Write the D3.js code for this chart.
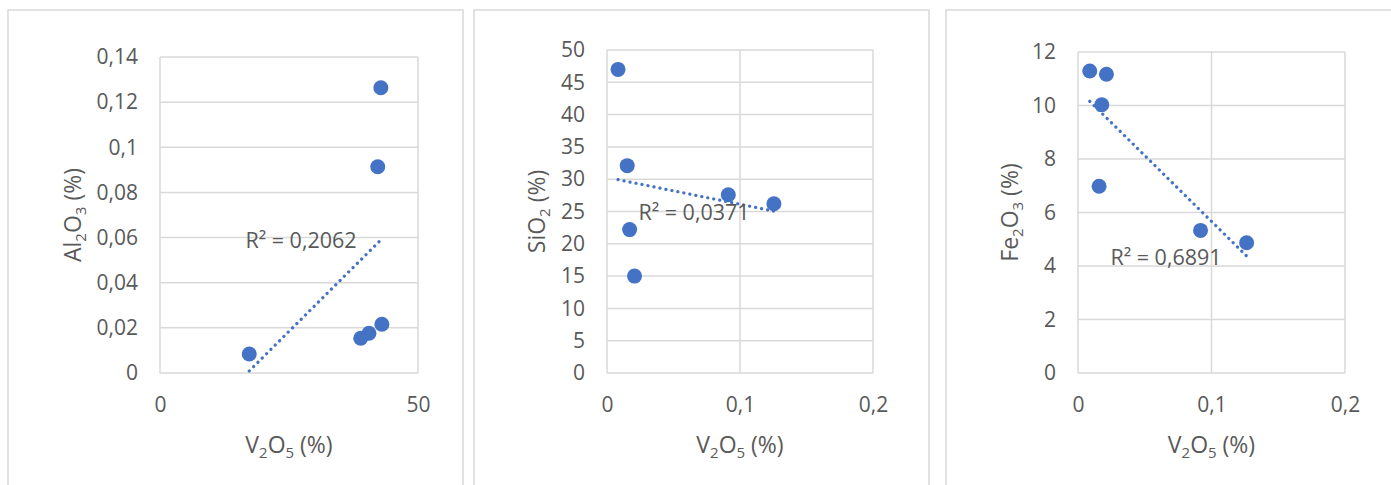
<!DOCTYPE html>
<html>
<head>
<meta charset="utf-8">
<script src="https://cdn.jsdelivr.net/npm/d3@7"></script>
<style>
  html, body { margin: 0; padding: 0; background: #fff; }
  svg { display: block; font-family: "Open Sans", "Noto Sans", sans-serif; }
</style>
</head>
<body>
<svg id="chart" width="1391" height="485"></svg>
<script>
// ---- data ----
const al2o3X = [42.8, 42.2, 43.0, 40.5, 38.9, 17.3];
const al2o3Y = [0.1264, 0.0914, 0.0216, 0.0176, 0.0154, 0.0084];

const sio2X = [0.0083, 0.0152, 0.017, 0.0207, 0.0912, 0.1255];
const sio2Y = [47.0, 32.1, 22.2, 15.0, 27.6, 26.2];

const fe2o3X = [0.0088, 0.0213, 0.0178, 0.0158, 0.0918, 0.1263];
const fe2o3Y = [11.29, 11.17, 10.03, 6.98, 5.33, 4.87];

const al2o3XTicks = [0, 50];
const al2o3YTicks = [0, 0.02, 0.04, 0.06, 0.08, 0.1, 0.12, 0.14];
const v2o5Ticks = [0, 0.1, 0.2];
const sio2YTicks = [0, 5, 10, 15, 20, 25, 30, 35, 40, 45, 50];
const fe2o3YTicks = [0, 2, 4, 6, 8, 10, 12];

const r2Labels = ["0,2062", "0,0371", "0,6891"];
const yTitles = [["Al", "2", "O", "3", " (%)"], ["SiO", "2", " (%)"], ["Fe", "2", "O", "3", " (%)"]];

// ---- layout ----
const panels = [
  { frame: [8, 10, 463], plot: [160, 57, 418, 373], xs: al2o3X, ys: al2o3Y,
    xTicks: al2o3XTicks, yTicks: al2o3YTicks, label: [141, 183], yTitleX: 73 },
  { frame: [474, 10, 929], plot: [607, 50, 873, 373], xs: sio2X, ys: sio2Y,
    xTicks: v2o5Ticks, yTicks: sio2YTicks, label: [87, 162], yTitleX: 537 },
  { frame: [946, 10, 1400], plot: [1078, 52, 1345, 373], xs: fe2o3X, ys: fe2o3Y,
    xTicks: v2o5Ticks, yTicks: fe2o3YTicks, label: [88, 205], yTitleX: 1010 }
];

const BLUE = "#4472C4";
const GRID = "#d9d9d9";
const TEXT = "#595959";
const FS = 21;      // tick and label size
const TITLE_FS = 23; // axis title size
const SUB_FS = 15;   // subscript size

const fmt = v => String(v).replace(".", ",");

const svg = d3.select("#chart");

// subscript-aware text helper: single digits are set as subscripts
function richText(sel, parts) {
  parts.forEach((p, i) => {
    const sub = /^\d$/.test(p);
    sel.append("tspan")
      .attr("font-size", sub ? SUB_FS : TITLE_FS)
      .attr("dy", sub ? 5 : (i > 0 && /^\d$/.test(parts[i - 1]) ? -5 : 0))
      .text(p);
  });
}

panels.forEach((p, idx) => {
  const [fx0, fy0, fx1] = p.frame;
  svg.append("rect")
    .attr("x", fx0).attr("y", fy0)
    .attr("width", fx1 - fx0).attr("height", 500)
    .attr("fill", "#fff").attr("stroke", GRID).attr("stroke-width", 1.5);

  const [x0, y0, x1, y1] = p.plot;
  const x = d3.scaleLinear()
    .domain([p.xTicks[0], p.xTicks[p.xTicks.length - 1]])
    .range([x0, x1]);
  const y = d3.scaleLinear()
    .domain([p.yTicks[0], p.yTicks[p.yTicks.length - 1]])
    .range([y1, y0]);

  const g = svg.append("g");

  // gridlines
  g.selectAll(".hgrid").data(p.yTicks).join("line")
    .attr("x1", x0).attr("x2", x1)
    .attr("y1", d => y(d)).attr("y2", d => y(d))
    .attr("stroke", GRID).attr("stroke-width", 1.5);
  g.selectAll(".vgrid").data(p.xTicks).join("line")
    .attr("x1", d => x(d)).attr("x2", d => x(d))
    .attr("y1", y0).attr("y2", y1)
    .attr("stroke", GRID).attr("stroke-width", 1.5);

  // axes (labels only)
  const yAxis = g.append("g")
    .attr("transform", `translate(${x0},0)`)
    .call(d3.axisLeft(y).tickValues(p.yTicks).tickFormat(fmt).tickSize(0).tickPadding(22));
  const xAxis = g.append("g")
    .attr("transform", `translate(0,${y1})`)
    .call(d3.axisBottom(x).tickValues(p.xTicks).tickFormat(fmt).tickSize(0).tickPadding(24));
  [yAxis, xAxis].forEach(a => {
    a.select(".domain").remove();
    a.selectAll("text").attr("fill", TEXT).attr("font-size", FS)
      .attr("font-family", '"Open Sans", "Noto Sans", sans-serif');
  });

  // points
  const pts = p.xs.map((v, i) => [v, p.ys[i]]);
  g.selectAll(".pt").data(pts).join("circle")
    .attr("cx", d => x(d[0])).attr("cy", d => y(d[1]))
    .attr("r", 7.5).attr("fill", BLUE);

  // linear least-squares trendline across the data range
  const mx = d3.mean(p.xs), my = d3.mean(p.ys);
  const sxy = d3.sum(pts, d => (d[0] - mx) * (d[1] - my));
  const sxx = d3.sum(p.xs, v => (v - mx) * (v - mx));
  const slope = sxy / sxx, icpt = my - slope * mx;
  const [xmin, xmax] = d3.extent(p.xs);
  g.append("line")
    .attr("x1", x(xmin)).attr("y1", y(icpt + slope * xmin))
    .attr("x2", x(xmax)).attr("y2", y(icpt + slope * xmax))
    .attr("stroke", BLUE).attr("stroke-width", 3.2)
    .attr("stroke-linecap", "round")
    .attr("stroke-dasharray", "0.1 6");

  // R² label
  g.append("text")
    .attr("x", x0 + p.label[0]).attr("y", y0 + p.label[1])
    .attr("dy", "0.35em").attr("text-anchor", "middle")
    .attr("fill", TEXT).attr("font-size", 21.5)
    .text("R\u00B2 = " + r2Labels[idx]);

  // x title
  const xt = g.append("text")
    .attr("x", (x0 + x1) / 2).attr("y", 453)
    .attr("text-anchor", "middle").attr("fill", TEXT);
  richText(xt, ["V", "2", "O", "5", " (%)"]);

  // y title
  const yt = g.append("text")
    .attr("transform", `translate(${p.yTitleX + 8},${(y0 + y1) / 2}) rotate(-90)`)
    .attr("text-anchor", "middle").attr("fill", TEXT);
  richText(yt, yTitles[idx]);
});
</script>
</body>
</html>
